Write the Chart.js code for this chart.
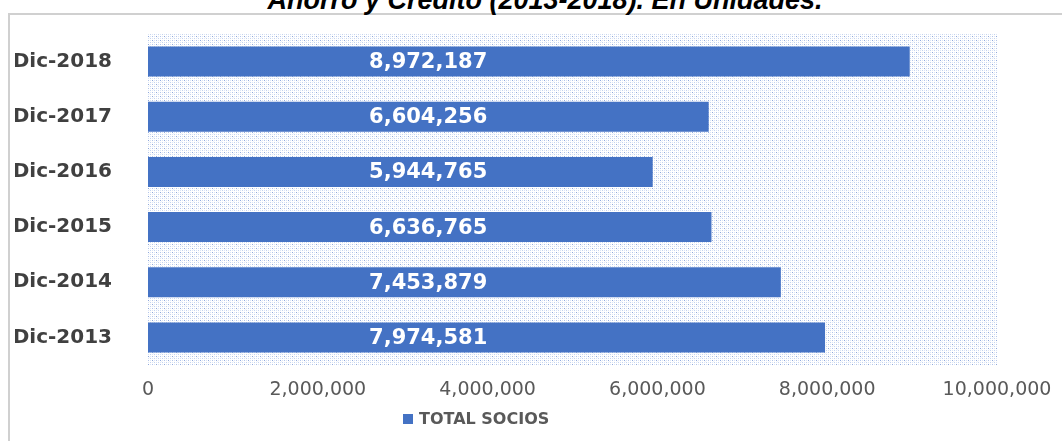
<!DOCTYPE html>
<html>
<head>
<meta charset="utf-8">
<script src="https://cdn.jsdelivr.net/npm/chart.js@4"></script>
<style>
  html, body { margin: 0; padding: 0; background: #fff; overflow: hidden; }
  #wrap { position: relative; width: 1062px; height: 441px; overflow: hidden; }
  #frame { position: absolute; left: 8px; top: 13px; width: 1200px; height: 600px;
           border-left: 2px solid #d0d0d0; border-top: 2px solid #d0d0d0; }
  #title { position: absolute; left: 0; width: 1090px; top: -13px; text-align: center;
           font: italic bold 27px "Liberation Sans", Arial, sans-serif; line-height: 27px; color: #000; }
  #legend { position: absolute; top: 409px; left: 403px; font: bold 16px "DejaVu Sans", sans-serif;
            color: #595959; white-space: nowrap; }
  #legend span.box { display: inline-block; width: 10px; height: 10px; background: #4472C4; margin-right: 6px; }
  canvas { position: absolute; left: 0; top: 0; }
</style>
</head>
<body>
<div id="wrap">
  <div id="frame"></div>
  <div id="title">Ahorro y Crédito (2013-2018). En Unidades.</div>
  <canvas id="chart" width="1062" height="441"></canvas>
  <div id="legend"></div>
</div>
<script>
const categories = ['Dic-2013', 'Dic-2014', 'Dic-2015', 'Dic-2016', 'Dic-2017', 'Dic-2018'];
const totalSocios = [7974581, 7453879, 6636765, 5944765, 6604256, 8972187];
const xTicks = [0, 2000000, 4000000, 6000000, 8000000, 10000000];
const seriesName = 'TOTAL SOCIOS';

const fmt = v => v.toLocaleString('en-US');

// dotted background like the Excel pattern fill
function makePattern() {
  const p = document.createElement('canvas');
  p.width = 8; p.height = 8;
  const c = p.getContext('2d');
  c.fillStyle = '#ffffff';
  c.fillRect(0, 0, 8, 8);
  const dot = (x, y, col) => { c.fillStyle = col; c.fillRect(x, y, 1, 1); };
  for (let y = 0; y < 8; y += 2) {
    for (let x = 0; x < 8; x += 2) {
      dot(x, y, '#dce5f5');
    }
  }
  dot(0, 0, '#8fa8dc'); dot(4, 4, '#8fa8dc');
  dot(4, 0, '#b3c5ea'); dot(0, 4, '#b3c5ea');
  dot(2, 2, '#c4d3ef'); dot(6, 6, '#c4d3ef');
  dot(2, 6, '#c4d3ef'); dot(6, 2, '#c4d3ef');
  dot(1, 1, '#eef2fa'); dot(5, 5, '#eef2fa');
  return p;
}

const patternBg = {
  id: 'patternBg',
  beforeDraw(chart) {
    const { ctx, chartArea: a } = chart;
    ctx.save();
    ctx.fillStyle = ctx.createPattern(makePattern(), 'repeat');
    ctx.fillRect(a.left, a.top, a.right - a.left, a.bottom - a.top);
    ctx.restore();
  }
};

// value labels, all set at the same spot along the bars
const labelPos = 3300000;
const valueLabels = {
  id: 'valueLabels',
  afterDatasetsDraw(chart) {
    const { ctx } = chart;
    const meta = chart.getDatasetMeta(0);
    const x = chart.scales.x.getPixelForValue(labelPos);
    ctx.save();
    ctx.fillStyle = '#ffffff';
    ctx.font = 'bold 21px "DejaVu Sans", sans-serif';
    ctx.textAlign = 'center';
    ctx.textBaseline = 'middle';
    meta.data.forEach((bar, i) => {
      ctx.fillText(fmt(totalSocios[i]), x, bar.y + 1);
    });
    ctx.restore();
  }
};

const chart = new Chart(document.getElementById('chart').getContext('2d'), {
  type: 'bar',
  data: {
    labels: categories,
    datasets: [{
      label: seriesName,
      data: totalSocios,
      backgroundColor: '#4472C4',
      categoryPercentage: 1,
      barPercentage: 0.545
    }]
  },
  options: {
    indexAxis: 'y',
    responsive: false,
    animation: false,
    devicePixelRatio: 1,
    layout: { padding: { left: 15, right: 65, top: 34, bottom: 30 } },
    plugins: { legend: { display: false }, tooltip: { enabled: false } },
    scales: {
      x: {
        min: 0,
        max: 10000000,
        afterBuildTicks(scale) { scale.ticks = xTicks.map(v => ({ value: v })); },
        grid: { display: false },
        border: { display: false },
        afterFit(scale) { scale.height = 46; },
        ticks: {
          padding: 6,
          color: '#595959',
          font: { family: 'DejaVu Sans', size: 19 },
          callback: v => fmt(v)
        }
      },
      y: {
        reverse: true,
        grid: { display: false },
        border: { display: false },
        afterFit(scale) {
          scale.width = 133;
          scale.paddingTop = 0;
          scale.paddingBottom = 0;
        },
        ticks: {
          padding: 28,
          color: '#404040',
          font: { family: 'DejaVu Sans', size: 20, weight: 'bold' }
        }
      }
    }
  },
  plugins: [patternBg, valueLabels]
});

document.getElementById('legend').innerHTML =
  '<span class="box"></span>' + chart.data.datasets[0].label;
</script>
</body>
</html>
